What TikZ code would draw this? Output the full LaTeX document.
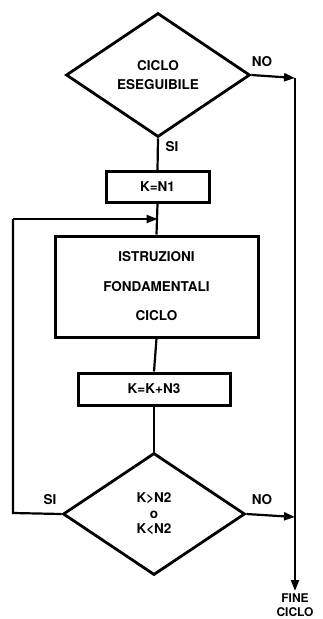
\documentclass[tikz,border=0pt]{standalone}
\usepackage{fontspec}
\setmainfont{TeX Gyre Heros}
\usetikzlibrary{shapes.geometric,arrows.meta}
\tikzset{
  bigbold/.style={font=\bfseries\fontsize{13.5}{15.5}\selectfont},
  decision/.style={draw, diamond, line width=2.8pt, inner sep=0pt, bigbold},
  block/.style={draw, rectangle, line width=3pt, inner sep=0pt, bigbold},
  lbl/.style={bigbold},
  flow/.style={line width=2.2pt},
  arr/.style={flow, -{Triangle[length=11pt,width=8pt]}}
}
\begin{document}
\begin{tikzpicture}[x=1pt, y=-1pt]
	\useasboundingbox (0,0) rectangle (322,619);
	% shapes
	\node[decision, minimum width=184, minimum height=124, align=center] (cond1) at (158,75) {CICLO\\[4pt]ESEGUIBILE};
	\node[block, minimum width=103, minimum height=31] (init) at (157.5,187) {K=N1};
	\node[block, minimum width=203, minimum height=101, align=center, font=\bfseries\fontsize{13.5}{29.5}\selectfont] (body) at (156.5,286.5) {ISTRUZIONI\\FONDAMENTALI\\CICLO};
	\node[block, minimum width=152, minimum height=32] (incr) at (154,389) {K=K+N3};
	\node[decision, minimum width=182, minimum height=122, align=center] (cond2) at (154,514) {K>N2\\o\\K<N2};
	% corners of the connectors
	\coordinate (r1) at (295,78);
	\coordinate (r2) at (295,517);
	\coordinate (fine) at (295,591);
	\coordinate (l1) at (13,513);
	\coordinate (l2) at (13,219);
	\coordinate (j) at (init.south |- l2);
	% connectors
	\draw[flow] (cond1.south) -- (init.north);
	\draw[flow] (init.south) -- (body.north);
	\draw[flow] (body.south) -- (incr.north);
	\draw[flow] (incr.south) -- (cond2.north);
	\draw[arr] (cond1.east) -- (r1);
	\draw[arr] (cond2.east) -- (r2);
	\draw[arr] (r1) -- (fine);
	\draw[flow] (cond2.west) -- (l1) -- (l2);
	\draw[arr] (l2) -- (j);
	% labels
	\node[lbl] (no1) at (262,62) {NO};
	\node[lbl] (si1) at (172,147) {SI};
	\node[lbl] (si2) at (50,500) {SI};
	\node[lbl] (no2) at (262,500) {NO};
	\node[lbl, align=center, font=\bfseries\fontsize{12}{14}\selectfont] (end) at (295,605) {FINE\\CICLO};
\end{tikzpicture}
\end{document}
